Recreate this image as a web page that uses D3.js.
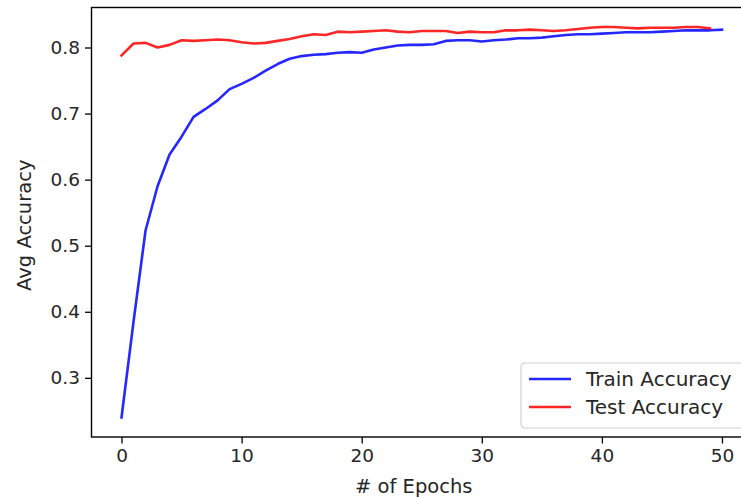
<!DOCTYPE html>
<html>
<head>
<meta charset="utf-8">
<script src="https://cdn.jsdelivr.net/npm/d3@7"></script>
<style>
  html, body { margin: 0; padding: 0; background: #fff; }
  svg { display: block; font-family: "DejaVu Sans", sans-serif; }
</style>
</head>
<body>
<svg id="chart" width="741" height="497"></svg>
<script>
// Average accuracy per epoch
const trainAccuracy = [
  0.240, 0.385, 0.523, 0.590, 0.638, 0.665, 0.695, 0.707, 0.720, 0.737,
  0.745, 0.754, 0.765, 0.775, 0.783, 0.787, 0.789, 0.790, 0.792, 0.793,
  0.792, 0.797, 0.800, 0.803, 0.804, 0.804, 0.805, 0.810, 0.811, 0.811,
  0.809, 0.811, 0.812, 0.814, 0.814, 0.815, 0.817, 0.819, 0.820, 0.820,
  0.821, 0.822, 0.823, 0.823, 0.823, 0.824, 0.825, 0.826, 0.826, 0.826,
  0.827
];
const testAccuracy = [
  0.788, 0.806, 0.807, 0.800, 0.804, 0.811, 0.810, 0.811, 0.812, 0.811,
  0.808, 0.806, 0.807, 0.810, 0.813, 0.817, 0.820, 0.819, 0.824, 0.823,
  0.824, 0.825, 0.826, 0.824, 0.823, 0.825, 0.825, 0.825, 0.822, 0.824,
  0.823, 0.823, 0.826, 0.826, 0.827, 0.826, 0.825, 0.826, 0.828, 0.830,
  0.831, 0.831, 0.830, 0.829, 0.830, 0.830, 0.830, 0.831, 0.831, 0.829
];
const xTicks = [0, 10, 20, 30, 40, 50];
const yTicks = [0.3, 0.4, 0.5, 0.6, 0.7, 0.8];
const seriesNames = ["Train Accuracy", "Test Accuracy"];
const seriesColors = ["#0000ff", "#ff0000"];

const svg = d3.select("#chart");
const plot = { left: 91.5, right: 752, top: 7.5, bottom: 437 };
const tickFont = 18.5;
const labelFont = 19.5;
const legendFont = 20;
const textColor = "#262626";

// Axis limits padded by 5% of the data span on each side
const allY = trainAccuracy.concat(testAccuracy);
const yMin = d3.min(allY), yMax = d3.max(allY);
const yPad = (yMax - yMin) * 0.05;
const xMaxData = trainAccuracy.length - 1;
const xPad = xMaxData * 0.05;

const x = d3.scaleLinear().domain([-xPad, xMaxData + xPad]).range([plot.left, plot.right]);
const y = d3.scaleLinear().domain([yMin - yPad, yMax + yPad]).range([plot.bottom, plot.top]);

// Plot frame
svg.append("rect")
  .attr("x", plot.left).attr("y", plot.top)
  .attr("width", plot.right - plot.left).attr("height", plot.bottom - plot.top)
  .attr("fill", "none").attr("stroke", "#000").attr("stroke-width", 1.4);

// Axes
const xAxis = d3.axisBottom(x).tickValues(xTicks).tickFormat(d3.format("d"))
  .tickSizeInner(6.5).tickSizeOuter(0).tickPadding(5);
const yAxis = d3.axisLeft(y).tickValues(yTicks).tickFormat(d3.format(".1f"))
  .tickSizeInner(6.5).tickSizeOuter(0).tickPadding(5);

const gx = svg.append("g").attr("transform", `translate(0,${plot.bottom})`).call(xAxis);
const gy = svg.append("g").attr("transform", `translate(${plot.left},0)`).call(yAxis);
[gx, gy].forEach(g => {
  g.select(".domain").remove();
  g.selectAll(".tick line").attr("stroke", "#000").attr("stroke-width", 1.3);
  g.selectAll(".tick text").attr("fill", textColor)
    .style("font-size", tickFont + "px").style("font-family", "DejaVu Sans");
});

// Axis titles
svg.append("text")
  .attr("x", (x(-xPad) + x(xMaxData + xPad)) / 2 - 8)
  .attr("y", 493)
  .attr("text-anchor", "middle")
  .attr("fill", textColor)
  .style("font-size", labelFont + "px")
  .text("# of Epochs");

svg.append("text")
  .attr("transform", `translate(31,${(plot.top + plot.bottom) / 2 + 3}) rotate(-90)`)
  .attr("text-anchor", "middle")
  .attr("fill", textColor)
  .style("font-size", labelFont + "px")
  .text("Avg Accuracy");

// Series lines
const line = d3.line().x((d, i) => x(i)).y(d => y(d));
[trainAccuracy, testAccuracy].forEach((series, k) => {
  svg.append("path")
    .datum(series)
    .attr("d", line)
    .attr("fill", "none")
    .attr("stroke", seriesColors[k])
    .attr("stroke-width", 2.6)
    .attr("stroke-linejoin", "round")
    .attr("stroke-linecap", "square")
    .attr("opacity", 0.85);
});

// Legend
const legend = svg.append("g").attr("transform", "translate(521,363)");
legend.append("rect")
  .attr("width", 222).attr("height", 65).attr("rx", 4)
  .attr("fill", "#fff").attr("fill-opacity", 0.8)
  .attr("stroke", "#d0d0d0").attr("stroke-width", 1.2);
seriesNames.forEach((name, k) => {
  const cy = 16 + k * 28;
  legend.append("line")
    .attr("x1", 8).attr("x2", 50).attr("y1", cy).attr("y2", cy)
    .attr("stroke", seriesColors[k]).attr("stroke-width", 2.6).attr("opacity", 0.85);
  legend.append("text")
    .attr("x", 65).attr("y", cy).attr("dy", "0.35em")
    .attr("fill", textColor)
    .style("font-size", legendFont + "px")
    .text(name);
});
</script>
</body>
</html>
